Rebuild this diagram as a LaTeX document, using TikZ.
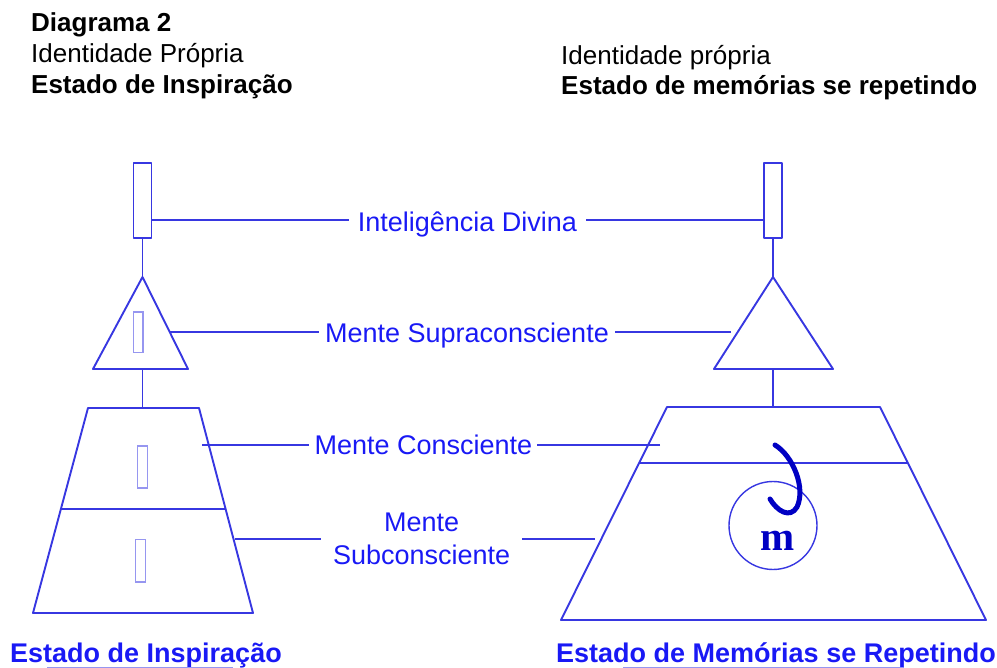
\documentclass[tikz,border=0pt]{standalone}
\usepackage{fontspec}
\setmainfont{Liberation Sans}
\newfontfamily\serifm{Liberation Serif}
\definecolor{shapeblue}{RGB}{55,55,225}
\definecolor{textblue}{RGB}{25,25,245}
\definecolor{faintblue}{RGB}{150,150,240}
\definecolor{curlblue}{RGB}{0,0,195}
\begin{document}
\begin{tikzpicture}[x=1pt,y=-1pt,
  shp/.style={draw=shapeblue, line width=1.9pt, line join=round},
  conn/.style={draw=shapeblue, line width=1.9pt},
  faint/.style={draw=faintblue, line width=1.2pt},
  lbl/.style={text=textblue, font=\fontsize{27}{33}\selectfont, inner ysep=0pt},
  head/.style={font=\fontsize{26}{30}\selectfont, inner sep=0pt, anchor=base west},
  bottomlbl/.style={text=textblue, font=\fontsize{27}{30}\selectfont\bfseries, inner sep=0pt, anchor=base west}]
\useasboundingbox (0,0) rectangle (997,668);

% headings
\node[head, font=\fontsize{26}{30}\selectfont\bfseries] (h1) at (31,31.7) {Diagrama 2};
\node[head] (h2) at (31,63) {Identidade Própria};
\node[head, font=\fontsize{26}{30}\selectfont\bfseries] (h3) at (31,94) {Estado de Inspiração};
\node[head] (h4) at (561,65) {Identidade própria};
\node[head, font=\fontsize{26}{30}\selectfont\bfseries] (h5) at (561,95) {Estado de memórias se repetindo};

% left column shapes
\node[shp, minimum width=18pt, minimum height=75pt, inner sep=0pt] (LRect) at (142.5,200.5) {};
\draw[shp] (142.5,277) coordinate (LTriTop) -- (188,369) -- (93,369) -- cycle;
\draw[faint] (133.5,312) rectangle (143,352.5);
\draw[shp] (88,408) -- (199,408) -- (253,613) -- (33,613) -- cycle;
\draw[shp] (61,509) -- (226,509);
\draw[faint] (137.5,446) rectangle (147.5,488);
\draw[faint] (135.5,539.5) rectangle (145.5,582);
\coordinate (LTriBase) at (142.5,369);
\coordinate (LTrapTop) at (142.5,408);
\draw[conn] (LRect.south) -- (LTriTop);
\draw[conn] (LTriBase) -- (LTrapTop);

% right column shapes
\node[shp, minimum width=18pt, minimum height=75pt, inner sep=0pt] (RRect) at (773,200.5) {};
\draw[shp] (773,277) coordinate (RTriTop) -- (833,369) -- (714,369) -- cycle;
\draw[shp] (667,407) -- (880,407) -- (986,620) -- (561,620) -- cycle;
\draw[shp] (639,463) -- (908,463);
\coordinate (RTriBase) at (773,369);
\coordinate (RTrapTop) at (773,407);
\draw[conn] (RRect.south) -- (RTriTop);
\draw[conn] (RTriBase) -- (RTrapTop);

% memory circle and curl
\node[draw=shapeblue, line width=1.4pt, circle, minimum size=88pt, inner sep=0pt] (mem) at (773,525.5) {};
\node[text=curlblue, font=\fontsize{41}{41}\selectfont\serifm\bfseries, inner sep=0pt, anchor=base] (mlet) at (778,550) {m};
\draw[curlblue, line width=5pt, line cap=round]
  (775,445) .. controls (793,456) and (806,488) .. (797,507)
  .. controls (790,519) and (777,511) .. (770,499);

% labels
\node[lbl, inner xsep=8.5pt, anchor=base] (ID) at (467.5,232) {Inteligência Divina};
\node[lbl, inner xsep=6pt, anchor=base] (MS) at (467,343) {Mente Supraconsciente};
\node[lbl, inner xsep=5pt, anchor=base] (MC) at (423.4,455) {Mente Consciente};
\node[lbl, inner xsep=12pt, align=center, anchor=center] (MSub) at (421.7,538.7) {Mente\\Subconsciente};

% connectors
\coordinate (iL) at (152,220);
\coordinate (iR) at (764,220);
\draw[conn] (iL) -- (iL -| ID.west);
\draw[conn] (iR) -- (iR -| ID.east);
\coordinate (sL) at (170,332);
\coordinate (sR) at (731,332);
\draw[conn] (sL) -- (sL -| MS.west);
\draw[conn] (sR) -- (sR -| MS.east);
\coordinate (cL) at (202,445);
\coordinate (cR) at (660,445);
\draw[conn] (cL) -- (cL -| MC.west);
\draw[conn] (cR) -- (cR -| MC.east);
\coordinate (uL) at (235,539);
\coordinate (uR) at (595,539);
\draw[conn] (uL) -- (uL -| MSub.west);
\draw[conn] (uR) -- (uR -| MSub.east);

% bottom labels
\node[bottomlbl] (BL) at (10,662) {Estado de Inspiração};
\node[bottomlbl] (BR) at (556,662) {Estado de Memórias se Repetindo};
\draw[faint, line width=1.5pt] (47,667.5) -- (233,667.5);
\draw[faint, line width=1.5pt] (623,667.5) -- (903,667.5);
\end{tikzpicture}
\end{document}
